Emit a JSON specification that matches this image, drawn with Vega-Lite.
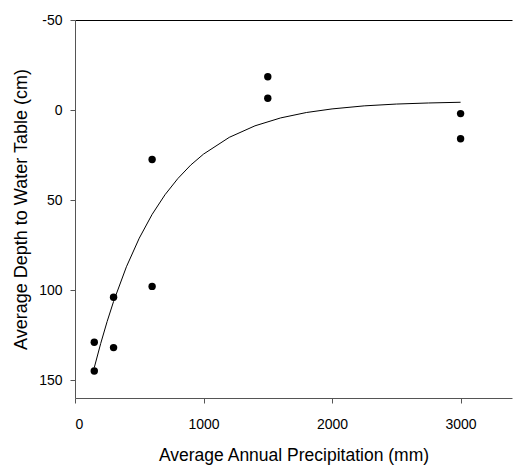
{
  "$schema": "https://vega.github.io/schema/vega-lite/v6.json",
  "autosize": "none",
  "width": 437,
  "height": 378,
  "padding": {"left": 75, "top": 20, "right": 2, "bottom": 69},
  "background": "white",
  "config": {
    "view": {"stroke": null},
    "font": "Liberation Sans",
    "axis": {
      "grid": false,
      "labelFont": "Liberation Sans",
      "titleFont": "Liberation Sans",
      "labelFontSize": 14,
      "titleFontWeight": "normal",
      "labelColor": "black",
      "titleColor": "black",
      "domainColor": "#555",
      "tickColor": "#555",
      "tickSize": 5
    }
  },
  "datasets": {
    "points": [
      {"precip": 150, "depth": 129},
      {"precip": 150, "depth": 145},
      {"precip": 300, "depth": 104},
      {"precip": 300, "depth": 132},
      {"precip": 600, "depth": 27.5},
      {"precip": 600, "depth": 98},
      {"precip": 1500, "depth": -18.5},
      {"precip": 1500, "depth": -6.5},
      {"precip": 3000, "depth": 2},
      {"precip": 3000, "depth": 16}
    ],
    "curve": [
      {"precip": 150, "depth": 143.1},
      {"precip": 200, "depth": 129.7},
      {"precip": 250, "depth": 117.5},
      {"precip": 300, "depth": 106.4},
      {"precip": 400, "depth": 87.1},
      {"precip": 500, "depth": 71.2},
      {"precip": 600, "depth": 58.0},
      {"precip": 700, "depth": 47.1},
      {"precip": 800, "depth": 38.1},
      {"precip": 900, "depth": 30.6},
      {"precip": 1000, "depth": 24.5},
      {"precip": 1200, "depth": 15.2},
      {"precip": 1400, "depth": 8.8},
      {"precip": 1600, "depth": 4.4},
      {"precip": 1800, "depth": 1.4},
      {"precip": 2000, "depth": -0.6},
      {"precip": 2250, "depth": -2.3},
      {"precip": 2500, "depth": -3.3},
      {"precip": 2750, "depth": -3.9},
      {"precip": 3000, "depth": -4.3}
    ]
  },
  "layer": [
    {
      "data": {"name": "curve"},
      "mark": {"type": "line", "color": "black", "strokeWidth": 1},
      "encoding": {
        "x": {
          "field": "precip", "type": "quantitative",
          "scale": {"domain": [0, 3400], "nice": false, "zero": false},
          "axis": {"values": [0, 1000, 2000, 3000], "title": "Average Annual Precipitation (mm)", "titleFontSize": 17.5, "labelPadding": 14, "titlePadding": 15, "format": "d"}
        },
        "y": {
          "field": "depth", "type": "quantitative",
          "scale": {"domain": [-50, 160], "reverse": true, "nice": false, "zero": false},
          "axis": {"values": [-50, 0, 50, 100, 150], "title": "Average Depth to Water Table (cm)", "titleFontSize": 18, "labelPadding": 8, "titlePadding": 8, "labelExpr": "toString(datum.value)"}
        }
      }
    },
    {
      "data": {"name": "points"},
      "mark": {"type": "point", "filled": true, "color": "black", "size": 55, "opacity": 1},
      "encoding": {
        "x": {
          "field": "precip", "type": "quantitative",
          "axis": {"orient": "top", "labels": false, "ticks": false, "title": null, "domainColor": "black"}
        },
        "y": {"field": "depth", "type": "quantitative"}
      }
    }
  ],
  "resolve": {"axis": {"x": "independent"}}
}
